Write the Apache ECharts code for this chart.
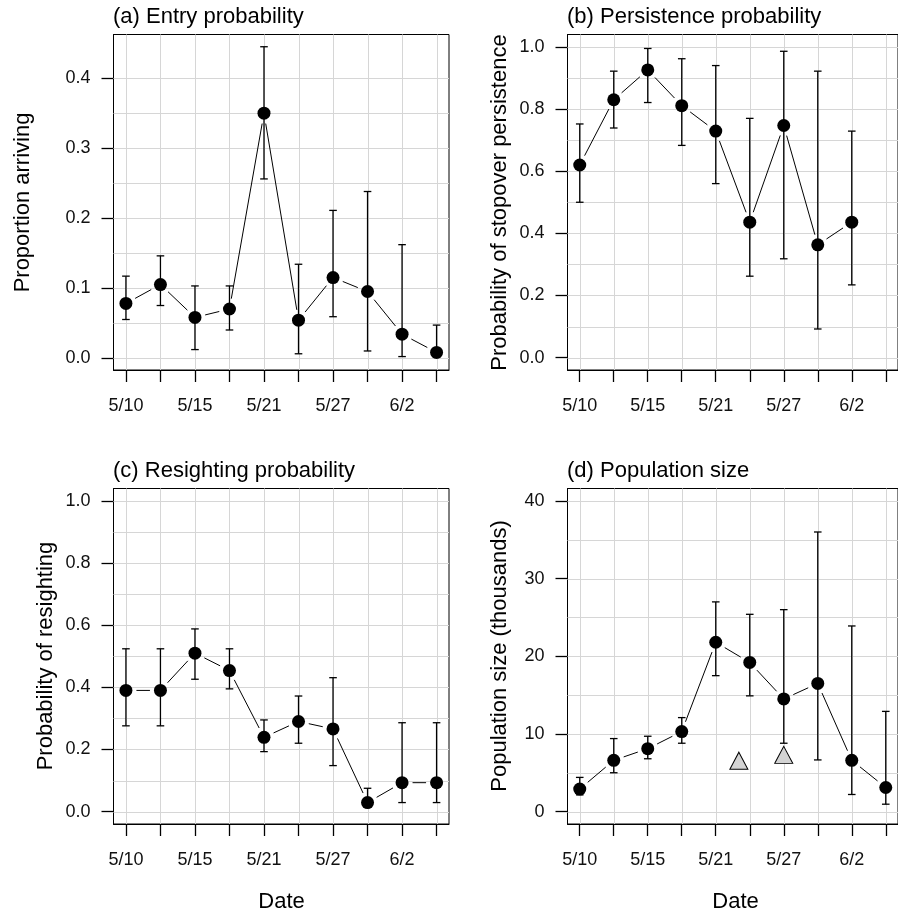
<!DOCTYPE html>
<html>
<head>
<meta charset="utf-8">
<script src="https://cdn.jsdelivr.net/npm/echarts@6/dist/echarts.min.js"></script>
<style>
html,body{margin:0;padding:0;background:#fff;}
#chart{width:898px;height:915px;}
</style>
</head>
<body>
<div id="chart"></div>
<script>
// ---------- data ----------
const xTicks = [1, 2, 3, 4, 5, 6, 7, 8, 9, 10];
const xLabelPos = [1, 3, 5, 7, 9];
const xLabelText = ['5/10', '5/15', '5/21', '5/27', '6/2'];

// (a) Entry probability
const entryX  = [1, 2, 3, 4, 5, 6, 7, 8, 9, 10];
const entryY  = [0.078, 0.105, 0.058, 0.070, 0.350, 0.054, 0.115, 0.095, 0.034, 0.008];
const entryLo = [0.055, 0.075, 0.012, 0.040, 0.256, 0.006, 0.059, 0.010, 0.002, 0.001];
const entryHi = [0.117, 0.146, 0.103, 0.103, 0.445, 0.134, 0.211, 0.238, 0.162, 0.047];
const entryTicks = [0, 0.1, 0.2, 0.3, 0.4];
const entryGrid  = [0, 0.05, 0.1, 0.15, 0.2, 0.25, 0.3, 0.35, 0.4];

// (b) Persistence probability
const persX  = [1, 2, 3, 4, 5, 6, 7, 8, 9];
const persY  = [0.620, 0.830, 0.926, 0.811, 0.729, 0.436, 0.747, 0.363, 0.436];
const persLo = [0.500, 0.739, 0.821, 0.683, 0.560, 0.262, 0.318, 0.092, 0.234];
const persHi = [0.752, 0.922, 0.995, 0.962, 0.940, 0.770, 0.986, 0.922, 0.729];
const probTicks = [0, 0.2, 0.4, 0.6, 0.8, 1.0];
const probGrid  = [0, 0.1, 0.2, 0.3, 0.4, 0.5, 0.6, 0.7, 0.8, 0.9, 1.0];

// (c) Resighting probability
const resX  = [1, 2, 3, 4, 5, 6, 7, 8, 9, 10];
const resY  = [0.390, 0.390, 0.510, 0.454, 0.239, 0.290, 0.266, 0.029, 0.093, 0.093];
const resLo = [0.276, 0.276, 0.426, 0.395, 0.193, 0.220, 0.148, 0.022, 0.029, 0.029];
const resHi = [0.524, 0.524, 0.588, 0.524, 0.295, 0.372, 0.431, 0.075, 0.286, 0.286];

// (d) Population size (thousands)
const popX  = [1, 2, 3, 4, 5, 6, 7, 8, 9, 10];
const popY  = [2.9, 6.6, 8.1, 10.3, 21.8, 19.2, 14.5, 16.5, 6.6, 3.1];
const popLo = [2.15, 5.0, 6.8, 8.8, 17.5, 14.9, 8.8, 6.65, 2.2, 0.95];
const popHi = [4.4, 9.4, 9.7, 12.1, 27.0, 25.4, 26.0, 36.0, 23.9, 12.9];
const popTriX = [5.68, 7.0];
const popTriY = [6.55, 7.3];
const popTicks = [0, 10, 20, 30, 40];
const popGrid  = [0, 5, 10, 15, 20, 25, 30, 35, 40];

const titles = ['(a) Entry probability', '(b) Persistence probability',
                '(c) Resighting probability', '(d) Population size'];
const yTitles = ['Proportion arriving', 'Probability of stopover persistence',
                 'Probability of resighting', 'Population size (thousands)'];

// ---------- layout ----------
const FONT = "'Liberation Sans', Arial, Helvetica, sans-serif";
const XMIN = 0.64, XMAX = 10.36;
const grids = [
  {left: 113.5, top: 34.5, width: 335.5, height: 335.5},
  {left: 567.5, top: 34.5, width: 336,   height: 335.5},
  {left: 113.5, top: 488.5, width: 335.5, height: 335.5},
  {left: 567.5, top: 488.5, width: 336,   height: 335.5}
];
const panels = [
  {x: entryX, y: entryY, lo: entryLo, hi: entryHi, ticks: entryTicks, grid: entryGrid, min: -0.0172, max: 0.4625, dec: 1},
  {x: persX, y: persY, lo: persLo, hi: persHi, ticks: probTicks, grid: probGrid, min: -0.04, max: 1.04, dec: 1},
  {x: resX, y: resY, lo: resLo, hi: resHi, ticks: probTicks, grid: probGrid, min: -0.04, max: 1.04, dec: 1},
  {x: popX, y: popY, lo: popLo, hi: popHi, ticks: popTicks, grid: popGrid, min: -1.6, max: 41.6, dec: 0}
];

const chart = echarts.init(document.getElementById('chart'), null, {renderer: 'canvas'});

const option = {
  animation: false,
  backgroundColor: '#ffffff',
  grid: grids.map(g => Object.assign({show: true, borderColor: '#000', borderWidth: 1, backgroundColor: 'transparent', containLabel: false}, g)),
  xAxis: grids.map((g, i) => ({
    type: 'value', gridIndex: i, min: XMIN, max: XMAX,
    axisLine: {show: true, onZero: false, lineStyle: {color: '#000', width: 1}},
    axisTick: {show: true, inside: false, length: 12, customValues: xTicks, lineStyle: {color: '#000', width: 1.3}},
    axisLabel: {show: true, margin: 27, customValues: xLabelPos, color: '#111', fontFamily: FONT, fontSize: 18,
      formatter: v => { const k = xLabelPos.indexOf(Math.round(v)); return k >= 0 ? xLabelText[k] : ''; }},
    splitLine: {show: false}
  })),
  yAxis: panels.map((p, i) => ({
    type: 'value', gridIndex: i, min: p.min, max: p.max,
    axisLine: {show: true, onZero: false, lineStyle: {color: '#000', width: 1}},
    axisTick: {show: true, inside: false, length: 12, customValues: p.ticks, lineStyle: {color: '#000', width: 1.3}},
    axisLabel: {show: true, margin: 23, customValues: p.ticks, color: '#111', fontFamily: FONT, fontSize: 18,
      formatter: v => Number(v).toFixed(p.dec)},
    splitLine: {show: false}
  })),
  series: [],
  graphic: []
};

function gridLineSeries(i, vals, vertical) {
  return {
    type: 'custom', xAxisIndex: i, yAxisIndex: i, z: 1, silent: true,
    data: vals.map(v => vertical ? [v, panels[i].min] : [XMIN, v]),
    encode: {x: 0, y: 1},
    renderItem: function (params, api) {
      const cs = params.coordSys;
      const pt = api.coord([api.value(0), api.value(1)]);
      let shape;
      if (vertical) {
        const x = Math.round(pt[0]) + 0.5;
        shape = {x1: x, y1: cs.y, x2: x, y2: cs.y + cs.height};
      } else {
        const y = Math.round(pt[1]) + 0.5;
        shape = {x1: cs.x, y1: y, x2: cs.x + cs.width, y2: y};
      }
      return {type: 'line', shape: shape, style: {stroke: '#d6d6d6', lineWidth: 1}};
    }
  };
}

panels.forEach((p, i) => {
  option.series.push(gridLineSeries(i, xTicks, true));
  option.series.push(gridLineSeries(i, p.grid, false));
  // connecting segments with gaps (R type="b")
  const segs = [];
  for (let k = 0; k < p.x.length - 1; k++) segs.push([p.x[k], p.y[k], p.x[k + 1], p.y[k + 1]]);
  option.series.push({
    type: 'custom', xAxisIndex: i, yAxisIndex: i, z: 3, silent: true,
    data: segs, encode: {x: [0, 2], y: [1, 3]},
    renderItem: function (params, api) {
      const a = api.coord([api.value(0), api.value(1)]);
      const b = api.coord([api.value(2), api.value(3)]);
      const dx = b[0] - a[0], dy = b[1] - a[1];
      const len = Math.sqrt(dx * dx + dy * dy);
      const gap = 10.5;
      if (len <= 2 * gap) return null;
      const ux = dx / len, uy = dy / len;
      return {type: 'line', shape: {x1: a[0] + ux * gap, y1: a[1] + uy * gap, x2: b[0] - ux * gap, y2: b[1] - uy * gap},
        style: {stroke: '#000', lineWidth: 1}};
    }
  });
  // error bars
  option.series.push({
    type: 'custom', xAxisIndex: i, yAxisIndex: i, z: 3, silent: true,
    data: p.x.map((x, k) => [x, p.lo[k], p.hi[k]]), encode: {x: 0, y: [1, 2]},
    renderItem: function (params, api) {
      const lo = api.coord([api.value(0), api.value(1)]);
      const hi = api.coord([api.value(0), api.value(2)]);
      const x = lo[0], w = 3.8;
      const st = {stroke: '#000', lineWidth: 1.3};
      return {type: 'group', children: [
        {type: 'line', shape: {x1: x, y1: lo[1], x2: x, y2: hi[1]}, style: st},
        {type: 'line', shape: {x1: x - w, y1: hi[1], x2: x + w, y2: hi[1]}, style: st},
        {type: 'line', shape: {x1: x - w, y1: lo[1], x2: x + w, y2: lo[1]}, style: st}
      ]};
    }
  });
  // points
  option.series.push({
    type: 'scatter', xAxisIndex: i, yAxisIndex: i, z: 4, silent: true,
    symbol: 'circle', symbolSize: 13,
    itemStyle: {color: '#000', opacity: 1},
    data: p.x.map((x, k) => [x, p.y[k]])
  });
  // panel title
  option.graphic.push({
    type: 'text', x: grids[i].left - 0.5, y: grids[i].top - 18, z: 10, silent: true,
    style: {text: titles[i], fill: '#000', font: '22px ' + FONT, textAlign: 'left', textVerticalAlign: 'middle'}
  });
});

// triangles in (d)
option.series.push({
  type: 'scatter', xAxisIndex: 3, yAxisIndex: 3, z: 4, silent: true,
  symbol: 'triangle', symbolSize: [18, 17],
  itemStyle: {color: '#d3d3d3', borderColor: '#000', borderWidth: 1, opacity: 1},
  data: popTriX.map((x, k) => [x, popTriY[k]])
});

// y-axis titles
const yTitlePos = [[23, 202.5], [500, 202.5], [46, 656], [500, 656]];
yTitlePos.forEach((pos, i) => {
  option.graphic.push({
    type: 'text', x: pos[0], y: pos[1], rotation: Math.PI / 2, z: 10, silent: true,
    style: {text: yTitles[i], fill: '#000', font: '22px ' + FONT, textAlign: 'center', textVerticalAlign: 'middle'}
  });
});
// x-axis titles
[[281.5, 901.5], [735.5, 901.5]].forEach(pos => {
  option.graphic.push({
    type: 'text', x: pos[0], y: pos[1], z: 10, silent: true,
    style: {text: 'Date', fill: '#000', font: '22px ' + FONT, textAlign: 'center', textVerticalAlign: 'middle'}
  });
});

chart.setOption(option);
</script>
</body>
</html>
